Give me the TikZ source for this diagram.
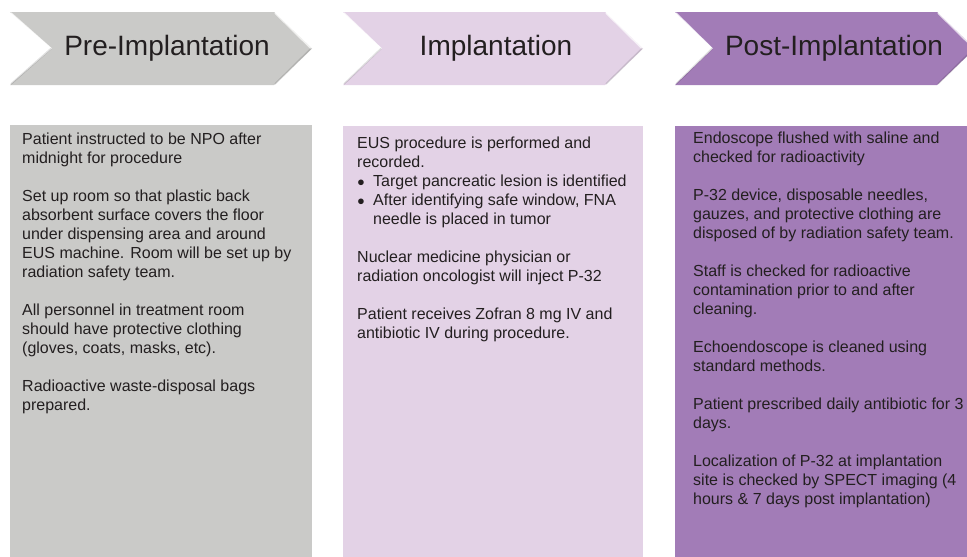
\documentclass[tikz,border=0pt]{standalone}
\usepackage{fontspec}
\setmainfont{Liberation Sans}
\usetikzlibrary{calc}

\definecolor{preGray}{RGB}{202,202,200}
\definecolor{impLilac}{RGB}{227,210,230}
\definecolor{postPurple}{RGB}{162,124,183}
\definecolor{txtDark}{RGB}{35,31,32}

\tikzset{
    header/.style={font=\fontsize{28}{32}\selectfont, text=txtDark, inner sep=0pt},
    stepbox/.style={anchor=north west, align=left, inner sep=0pt,
        font=\fontsize{16}{19}\selectfont, text=txtDark},
    bevelhi/.style={white, opacity=0.7, line width=1.6pt},
    bevello/.style={black, opacity=0.12, line width=1.6pt},
}
\newcommand{\bul}{\makebox[16pt][l]{\raisebox{0.5pt}{\fontsize{13}{13}\selectfont ●}}}

\begin{document}
\begin{tikzpicture}[x=1pt,y=-1pt]
    % Definitions
    \useasboundingbox (0,0) rectangle (967,557);
    % Chevrons
    \fill[preGray]    (10,12)  -- (274,12)  -- (312,48.5) -- (274,85)  -- (10,85)  -- (52,48.5)  -- cycle;
    \fill[impLilac]   (343,12) -- (605,12)  -- (643,48.5) -- (605,85)  -- (343,85) -- (382,48.5) -- cycle;
    \fill[postPurple] (675,12) -- (937,12)  -- (975,48.5) -- (937,85)  -- (675,85) -- (713,48.5) -- cycle;
    % Bevel edges
    \draw[bevelhi] (11,13)  -- (51,48.5);  \draw[bevelhi] (275,13) -- (311,48.5);
    \draw[bevello] (11,84)  -- (51,48.5);  \draw[bevello] (275,84) -- (311,48.5);
    \draw[bevelhi] (344,13) -- (381,48.5); \draw[bevelhi] (606,13) -- (642,48.5);
    \draw[bevello] (344,84) -- (381,48.5); \draw[bevello] (606,84) -- (642,48.5);
    \draw[bevelhi] (676,13) -- (712,48.5); \draw[bevelhi] (938,13) -- (974,48.5);
    \draw[bevello] (676,84) -- (712,48.5); \draw[bevello] (938,84) -- (974,48.5);
    % Phase titles
    \node[header] (preT)  at (167,48.5) {Pre-Implantation};
    \node[header] (impT)  at (496,48.5) {Implantation};
    \node[header] (postT) at (834,48.5) {Post-Implantation};
    % Boxes
    \fill[preGray]    (10,125)  rectangle (312,557);
    \fill[impLilac]   (343,126) rectangle (643,557);
    \fill[postPurple] (675,126) rectangle (967,557);
    % Box texts
    \node[stepbox] (preS) at (22,133) {%
        Patient instructed to be NPO after\\
        midnight for procedure\\[19pt]
        Set up room so that plastic back\\
        absorbent surface covers the floor\\
        under dispensing area and around\\
        EUS machine. Room will be set up by\\
        radiation safety team.\\[19pt]
        All personnel in treatment room\\
        should have protective clothing\\
        (gloves, coats, masks, etc).\\[19pt]
        Radioactive waste-disposal bags\\
        prepared.};
    \node[stepbox] (impS) at (357,137) {%
        EUS procedure is performed and\\
        recorded.\\
        \bul Target pancreatic lesion is identified\\
        \bul After identifying safe window, FNA\\
        \hspace*{16pt}needle is placed in tumor\\[19pt]
        Nuclear medicine physician or\\
        radiation oncologist will inject P-32\\[19pt]
        Patient receives Zofran 8 mg IV and\\
        antibiotic IV during procedure.};
    \node[stepbox] (postS) at (693,132) {%
        Endoscope flushed with saline and\\
        checked for radioactivity\\[19pt]
        P-32 device, disposable needles,\\
        gauzes, and protective clothing are\\
        disposed of by radiation safety team.\\[19pt]
        Staff is checked for radioactive\\
        contamination prior to and after\\
        cleaning.\\[19pt]
        Echoendoscope is cleaned using\\
        standard methods.\\[19pt]
        Patient prescribed daily antibiotic for 3\\
        days.\\[19pt]
        Localization of P-32 at implantation\\
        site is checked by SPECT imaging (4\\
        hours \& 7 days post implantation)};
\end{tikzpicture}
\end{document}
